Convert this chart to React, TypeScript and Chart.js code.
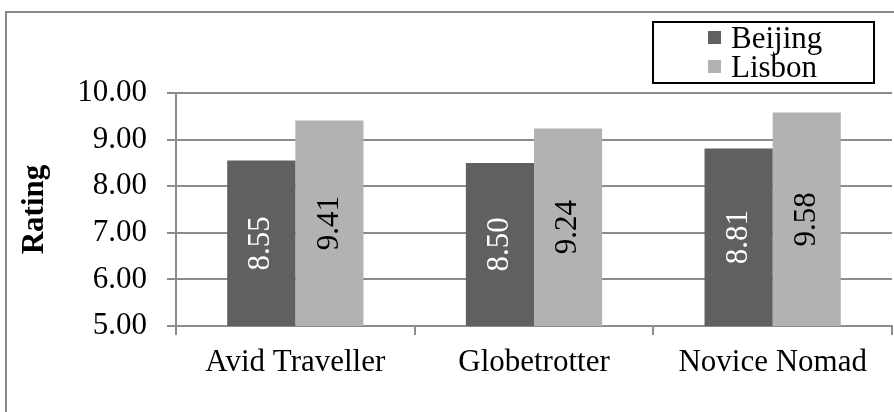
import React, { useEffect, useRef } from "react";
import { Chart, registerables } from "chart.js";

Chart.register(...registerables);

// Data
const categories = ["Avid Traveller", "Globetrotter", "Novice Nomad"];
const seriesNames = ["Beijing", "Lisbon"];
const beijingRatings = [8.55, 8.5, 8.81];
const lisbonRatings = [9.41, 9.24, 9.58];
const yMin = 5;
const yMax = 10;
const yStep = 1;

const FONT = "'Times New Roman', 'Liberation Serif', serif";
const FONT_SIZE = 31;
const DARK = "#606060";
const LIGHT = "#b2b2b2";
const GRID = "#8c8c8c";

// Grey frame around the whole chart (top and left edges visible)
const framePlugin = {
  id: "frame",
  beforeDraw(chart: any) {
    const { ctx, width, height } = chart;
    ctx.save();
    ctx.fillStyle = "#ffffff";
    ctx.fillRect(0, 0, width, height);
    ctx.strokeStyle = "#888888";
    ctx.lineWidth = 2;
    ctx.beginPath();
    ctx.moveTo(6, height + 2);
    ctx.lineTo(6, 12);
    ctx.lineTo(width + 2, 12);
    ctx.stroke();
    ctx.restore();
  },
};

// Rotated value labels centred inside each bar
const barLabelPlugin = {
  id: "barLabels",
  afterDatasetsDraw(chart: any) {
    const { ctx, chartArea } = chart;
    ctx.save();
    ctx.font = `${FONT_SIZE}px ${FONT}`;
    ctx.textAlign = "center";
    ctx.textBaseline = "middle";
    chart.data.datasets.forEach((ds: any, di: number) => {
      const meta = chart.getDatasetMeta(di);
      meta.data.forEach((bar: any, i: number) => {
        const v = ds.data[i] as number;
        const bottom = Math.min(bar.base, chartArea.bottom);
        const cy = (bar.y + bottom) / 2;
        ctx.save();
        ctx.translate(bar.x, cy);
        ctx.rotate(-Math.PI / 2);
        ctx.fillStyle = di === 0 ? "#ffffff" : "#000000";
        ctx.fillText(v.toFixed(2), 0, 0);
        ctx.restore();
      });
    });
    ctx.restore();
  },
};

// Boxed legend in the top-right corner
const boxLegendPlugin = {
  id: "boxLegend",
  afterDraw(chart: any) {
    const { ctx } = chart;
    const x = 653;
    const y = 22;
    const w = 221;
    const h = 61;
    ctx.save();
    ctx.fillStyle = "#ffffff";
    ctx.fillRect(x, y, w, h);
    ctx.strokeStyle = "#000000";
    ctx.lineWidth = 2;
    ctx.strokeRect(x, y, w, h);
    ctx.font = `${FONT_SIZE}px ${FONT}`;
    ctx.textAlign = "left";
    ctx.textBaseline = "alphabetic";
    chart.data.datasets.forEach((ds: any, i: number) => {
      const baseline = 48 + i * 29;
      ctx.fillStyle = ds.backgroundColor;
      ctx.fillRect(708, baseline - 17, 13, 13);
      ctx.fillStyle = "#000000";
      ctx.fillText(ds.label, 731, baseline);
    });
    ctx.restore();
  },
};

export default function App() {
  const canvasRef = useRef<HTMLCanvasElement>(null);

  useEffect(() => {
    document.body.style.margin = "0";
    const canvas = canvasRef.current;
    if (!canvas) return;
    const chart = new Chart(canvas, {
      type: "bar",
      data: {
        labels: categories,
        datasets: [
          {
            label: seriesNames[0],
            data: beijingRatings,
            backgroundColor: DARK,
            categoryPercentage: 0.571,
            barPercentage: 1.0,
          },
          {
            label: seriesNames[1],
            data: lisbonRatings,
            backgroundColor: LIGHT,
            categoryPercentage: 0.571,
            barPercentage: 1.0,
          },
        ],
      },
      options: {
        responsive: false,
        animation: false,
        layout: { padding: { top: 93, left: 0, right: 2, bottom: 0 } },
        plugins: {
          legend: { display: false },
          tooltip: { enabled: false },
        },
        scales: {
          x: {
            afterFit(scale: any) {
              scale.height = 86;
            },
            grid: {
              display: true,
              drawOnChartArea: false,
              drawTicks: true,
              tickLength: 9,
              offset: true,
              color: GRID,
              lineWidth: 2,
            },
            border: { display: true, color: GRID, width: 2 },
            ticks: {
              color: "#000000",
              padding: 9,
              font: { family: FONT, size: FONT_SIZE },
              maxRotation: 0,
            },
          },
          y: {
            min: yMin,
            max: yMax,
            afterFit(scale: any) {
              scale.width = 176;
            },
            grid: {
              color: GRID,
              lineWidth: 2,
              drawTicks: true,
              tickLength: 9,
            },
            border: { display: true, color: GRID, width: 2 },
            ticks: {
              stepSize: yStep,
              color: "#000000",
              padding: 20,
              font: { family: FONT, size: FONT_SIZE },
              callback: (v: any) => Number(v).toFixed(2),
            },
            title: {
              display: true,
              text: "Rating",
              color: "#000000",
              font: { family: FONT, size: FONT_SIZE, weight: "bold" },
              padding: { top: 16, bottom: 0 },
            },
          },
        },
      },
      plugins: [framePlugin, barLabelPlugin, boxLegendPlugin],
    });
    return () => chart.destroy();
  }, []);

  return (
    <canvas
      ref={canvasRef}
      width={894}
      height={412}
      style={{ display: "block", width: 894, height: 412 }}
    />
  );
}
